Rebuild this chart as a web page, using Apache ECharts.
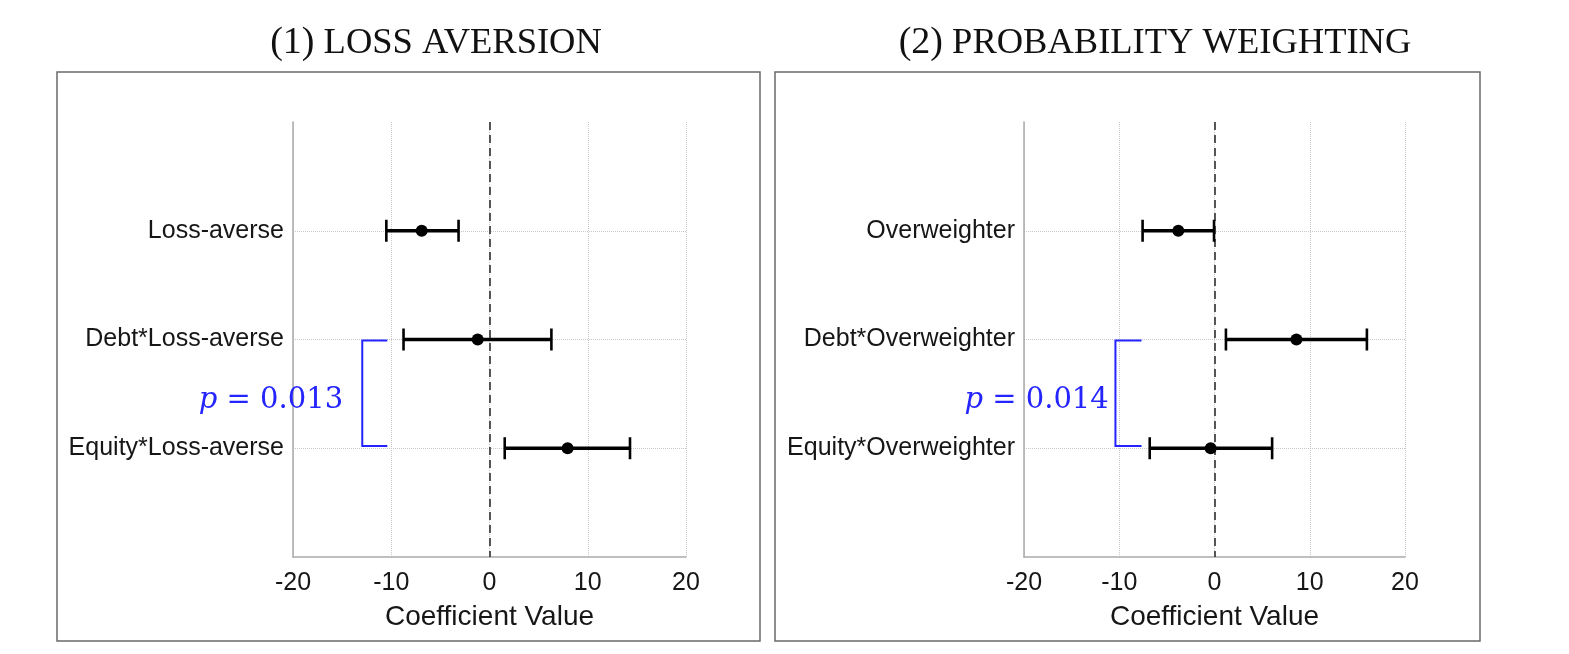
<!DOCTYPE html>
<html>
<head>
<meta charset="utf-8">
<script src="https://cdn.jsdelivr.net/npm/echarts@6/dist/echarts.min.js"></script>
<style>
html,body{margin:0;padding:0;background:#fff;}
#chart{width:1569px;height:654px;}
</style>
</head>
<body>
<div id="chart"></div>
<script>
// ---- data ----
const titleNums = ['(1)', '(2)'];
const titleTexts = ['LOSS AVERSION', 'PROBABILITY WEIGHTING'];
const rows = [1, 2, 3];
const categoriesLeft = ['Loss-averse', 'Debt*Loss-averse', 'Equity*Loss-averse'];
const estLeft = [-6.9, -1.2, 7.95];
const lowLeft = [-10.5, -8.75, 1.55];
const highLeft = [-3.15, 6.3, 14.3];
const categoriesRight = ['Overweighter', 'Debt*Overweighter', 'Equity*Overweighter'];
const estRight = [-3.8, 8.6, -0.4];
const lowRight = [-7.55, 1.2, -6.8];
const highRight = [-0.05, 16.0, 6.05];
const xTicks = [-20, -10, 0, 10, 20];
const xLabel = 'Coefficient Value';
// bracket: [xOuter, xInner, yTop, yBottom]
const bracketLeft = [-12.95, -10.4, 2.01, 2.98];
const bracketRight = [-10.4, -7.66, 2.01, 2.98];
// p-value labels: [x (right edge), y]
const pTextLeftPos = [-14.9, 2.56];
const pTextRightPos = [-11.1, 2.56];
const pValues = ['0.013', '0.014'];

const chart = echarts.init(document.getElementById('chart'));
const textColor = '#161616';
const blue = '#2424ff';
const sans = 'Liberation Sans, Arial, Helvetica, sans-serif';
const serif = 'Liberation Serif, Times New Roman, serif';

function makeX(gi) {
  return {
    type: 'value', gridIndex: gi, position: 'bottom',
    min: xTicks[0], max: xTicks[xTicks.length - 1], interval: xTicks[1] - xTicks[0],
    name: xLabel, nameLocation: 'middle', nameGap: 46,
    nameTextStyle: {fontFamily: sans, fontSize: 28, color: textColor},
    axisLine: {show: true, onZero: false, lineStyle: {color: '#aaaaaa', width: 1.5}},
    axisTick: {show: false},
    axisLabel: {fontFamily: sans, fontSize: 25, color: textColor, margin: 14},
    splitLine: {show: true, lineStyle: {color: '#c8c8c8', type: 'dotted', width: 1}}
  };
}
function makeY(gi, cats) {
  return {
    type: 'value', gridIndex: gi, position: 'left', min: 0, max: 4, interval: 1, inverse: true,
    axisLine: {show: true, onZero: false, lineStyle: {color: '#aaaaaa', width: 1.5}},
    axisTick: {show: false},
    axisLabel: {fontFamily: sans, fontSize: 25, color: textColor, margin: 9,
      formatter: v => (cats[v - 1] !== undefined ? cats[v - 1] : '')},
    splitLine: {show: true, showMinLine: false, showMaxLine: false,
      lineStyle: {color: '#c8c8c8', type: 'dotted', width: 1}}
  };
}

function errorBarSeries(gi, low, high) {
  return {
    type: 'custom', xAxisIndex: gi, yAxisIndex: gi, z: 5,
    data: rows.map((r, i) => [r, low[i], high[i]]),
    encode: {x: [1, 2], y: 0},
    renderItem: function (params, api) {
      const y = api.value(0), lo = api.value(1), hi = api.value(2);
      const a = api.coord([lo, y]), b = api.coord([hi, y]);
      const h = 11;
      return {type: 'group', children: [
        {type: 'line', shape: {x1: a[0], y1: a[1], x2: b[0], y2: b[1]}, style: {stroke: '#000', lineWidth: 3.5}},
        {type: 'line', shape: {x1: a[0], y1: a[1] - h, x2: a[0], y2: a[1] + h}, style: {stroke: '#000', lineWidth: 2.6}},
        {type: 'line', shape: {x1: b[0], y1: b[1] - h, x2: b[0], y2: b[1] + h}, style: {stroke: '#000', lineWidth: 2.6}}
      ]};
    }
  };
}
function pointSeries(gi, est) {
  return {
    type: 'scatter', xAxisIndex: gi, yAxisIndex: gi, z: 6,
    symbol: 'circle', symbolSize: 12,
    itemStyle: {color: '#000', opacity: 1},
    data: rows.map((r, i) => [est[i], r]),
    markLine: {
      silent: true, symbol: 'none', label: {show: false},
      lineStyle: {color: '#3a3a3a', type: [8, 5], width: 1.7, opacity: 1},
      data: [{xAxis: 0}]
    }
  };
}
function bracketSeries(gi, br, pos, pv) {
  return {
    type: 'custom', xAxisIndex: gi, yAxisIndex: gi, z: 7, clip: false,
    data: [[br[0], br[1], br[2], br[3], pos[0], pos[1]]],
    renderItem: function (params, api) {
      const p1 = api.coord([api.value(1), api.value(2)]);
      const p2 = api.coord([api.value(0), api.value(2)]);
      const p3 = api.coord([api.value(0), api.value(3)]);
      const p4 = api.coord([api.value(1), api.value(3)]);
      const t = api.coord([api.value(4), api.value(5)]);
      return {type: 'group', children: [
        {type: 'polyline', shape: {points: [p1, p2, p3, p4]}, style: {stroke: blue, lineWidth: 2, fill: null}},
        {type: 'text', x: t[0], y: t[1], style: {
          text: '{i|p} {n|= ' + pv + '}',
          textAlign: 'right', textVerticalAlign: 'middle',
          rich: {
            i: {fontFamily: 'DejaVu Serif', fontStyle: 'italic', fontSize: 29, fill: blue, color: blue},
            n: {fontFamily: 'DejaVu Serif', fontSize: 29, fill: blue, color: blue}
          },
          fontFamily: 'DejaVu Serif', fontSize: 29, fill: blue
        }}
      ]};
    }
  };
}

function titleEl(x, num, txt) {
  return {
    type: 'text', x: x, y: 43, z: 10,
    style: {
      text: '{a|' + num + '} {b|' + txt + '}',
      textAlign: 'center', textVerticalAlign: 'middle',
      rich: {
        a: {fontFamily: serif, fontSize: 38, fill: '#111', color: '#111'},
        b: {fontFamily: serif, fontSize: 36.5, fill: '#111', color: '#111'}
      },
      fontFamily: serif, fontSize: 36.5, fill: '#111'
    }
  };
}

const option = {
  backgroundColor: '#fff',
  animation: false,
  grid: [
    {left: 293, top: 122, width: 393, height: 435, outerBoundsMode: 'none', containLabel: false},
    {left: 1024, top: 122, width: 381, height: 435, outerBoundsMode: 'none', containLabel: false}
  ],
  xAxis: [makeX(0), makeX(1)],
  yAxis: [makeY(0, categoriesLeft), makeY(1, categoriesRight)],
  series: [
    errorBarSeries(0, lowLeft, highLeft),
    pointSeries(0, estLeft),
    bracketSeries(0, bracketLeft, pTextLeftPos, pValues[0]),
    errorBarSeries(1, lowRight, highRight),
    pointSeries(1, estRight),
    bracketSeries(1, bracketRight, pTextRightPos, pValues[1])
  ],
  graphic: [
    {type: 'rect', shape: {x: 57, y: 72, width: 703, height: 569}, style: {fill: null, stroke: '#6a6a6a', lineWidth: 1.5}, z: 0},
    {type: 'rect', shape: {x: 775, y: 72, width: 705, height: 569}, style: {fill: null, stroke: '#6a6a6a', lineWidth: 1.5}, z: 0},
    titleEl(436, titleNums[0], titleTexts[0]),
    titleEl(1155, titleNums[1], titleTexts[1])
  ]
};
chart.setOption(option);
</script>
</body>
</html>
